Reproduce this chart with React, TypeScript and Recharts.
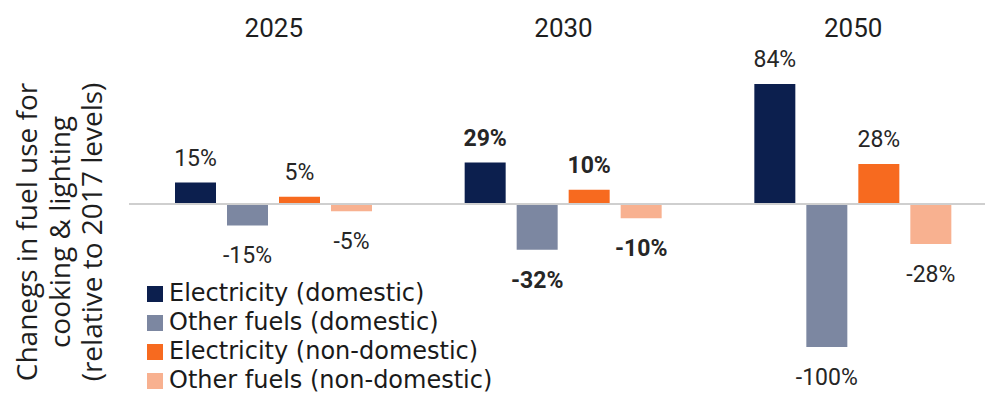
import React from 'react';
import { BarChart, Bar, XAxis, YAxis, ReferenceLine, Legend } from 'recharts';

// values (% change vs 2017)
const years = ['2025', '2030', '2050'];
const elecDomestic = [15, 29, 84];
const otherDomestic = [-15, -32, -100];
const elecNonDomestic = [5, 10, 28];
const otherNonDomestic = [-5, -10, -28];

const seriesNames = [
  'Electricity (domestic)',
  'Other fuels (domestic)',
  'Electricity (non-domestic)',
  'Other fuels (non-domestic)',
];
const seriesColors = ['#0c1f4e', '#7c87a1', '#f76a1f', '#f8b190'];
const seriesKeys = ['elecDom', 'otherDom', 'elecNonDom', 'otherNonDom'];

const yLabelLines = [
  'Chanegs in fuel use for',
  'cooking & lighting',
  '(relative to 2017 levels)',
];

const data = years.map((year, i) => ({
  year,
  elecDom: elecDomestic[i],
  otherDom: otherDomestic[i],
  elecNonDom: elecNonDomestic[i],
  otherNonDom: otherNonDomestic[i],
}));

const BarLabel = (props: any) => {
  const { x, y, width, height, value, index } = props;
  const top = Math.min(y, y + height);
  const bottom = Math.max(y, y + height);
  const ty = value >= 0 ? top - 17 : bottom + 38;
  return (
    <text
      x={x + width / 2}
      y={ty}
      textAnchor="middle"
      fontFamily="Roboto"
      fontSize={23}
      fontWeight={index === 1 ? 700 : 400}
      fill="#262626"
    >
      {`${value}%`}
    </text>
  );
};

const YearTick = (props: any) => {
  const { x, payload } = props;
  return (
    <text x={x} y={37} textAnchor="middle" fontFamily="Roboto" fontSize={26} fill="#1e1e1e">
      {payload.value}
    </text>
  );
};

const YLabel = () => (
  <g>
    {yLabelLines.map((line, i) => (
      <text
        key={line}
        transform="rotate(-90)"
        x={-232}
        y={37 + i * 32.5}
        textAnchor="middle"
        fontFamily="Open Sans"
        fontSize={28}
        fill="#1e1e1e"
      >
        {line}
      </text>
    ))}
  </g>
);

const LegendContent = () => (
  <div style={{ fontFamily: 'DejaVu Sans', fontSize: 24, lineHeight: '29px', color: '#1a1a1a' }}>
    {seriesNames.map((name, i) => (
      <div key={name} style={{ whiteSpace: 'nowrap', display: 'flex', alignItems: 'center' }}>
        <span
          style={{
            display: 'inline-block',
            width: 16,
            height: 16,
            background: seriesColors[i],
            marginRight: 6,
          }}
        />
        <span>{name}</span>
      </div>
    ))}
  </div>
);

export default function App() {
  return (
    <div style={{ position: 'absolute', left: 0, top: 0, width: 985, height: 414, overflow: 'hidden', background: '#fff' }}>
      <BarChart
        width={998}
        height={414}
        data={data}
        margin={{ top: 21, right: 0, bottom: 67, left: 0 }}
        barCategoryGap={46}
        barGap={11}
      >
        <XAxis
          dataKey="year"
          orientation="top"
          height={40}
          axisLine={false}
          tickLine={false}
          tick={<YearTick />}
        />
        <YAxis
          type="number"
          domain={[-100, 100]}
          width={129}
          tick={false}
          axisLine={false}
          tickLine={false}
          label={{ content: <YLabel /> }}
        />
        <ReferenceLine y={0} stroke="#cfcfcf" strokeWidth={2} />
        {seriesKeys.map((key, i) => (
          <Bar
            key={key}
            dataKey={key}
            name={seriesNames[i]}
            fill={seriesColors[i]}
            isAnimationActive={false}
            label={<BarLabel />}
          />
        ))}
        <Legend
          layout="vertical"
          align="center"
          verticalAlign="middle"
          wrapperStyle={{ left: 147, top: 279, width: 400 }}
          content={<LegendContent />}
        />
      </BarChart>
    </div>
  );
}
